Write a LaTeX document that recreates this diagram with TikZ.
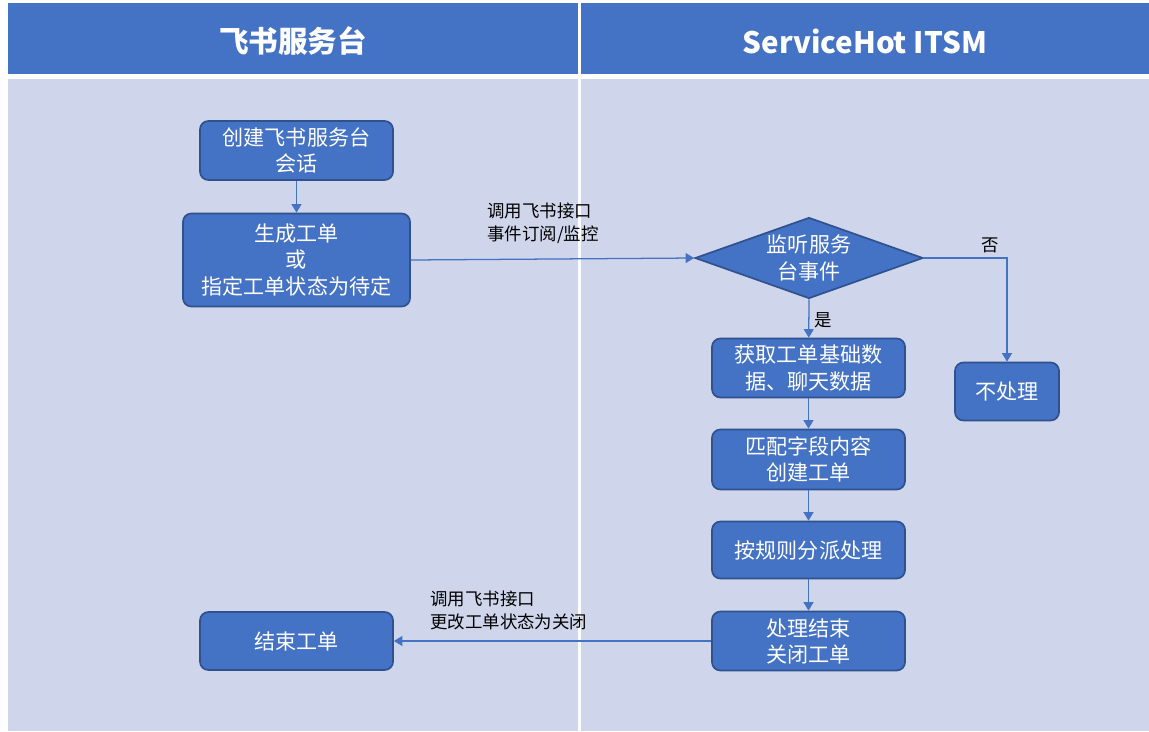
\documentclass[tikz,border=0pt]{standalone}
\usepackage{fontspec}
\setmainfont{Noto Sans CJK SC}
\usetikzlibrary{shapes.geometric,arrows.meta}
\definecolor{hdblue}{HTML}{4472C4}
\definecolor{lanebg}{HTML}{CFD5EA}
\definecolor{boxedge}{HTML}{2F528F}

\begin{document}
\begin{tikzpicture}[x=0.025cm,y=-0.025cm]
		\tikzstyle{every node}+=[inner sep=0pt]
		\tikzstyle{box}=[draw=boxedge, fill=hdblue, line width=1.2pt, rounded corners=6pt, text=white, align=center, font=\fontsize{15}{18.5}\selectfont]
		\tikzstyle{flow}=[draw=hdblue, line width=0.9pt, -{Triangle[length=6pt,width=7pt]}]
		\tikzstyle{lbl}=[align=left, text=black, font=\fontsize{12.4}{16.4}\selectfont]
		\tikzstyle{head}=[text=white, font=\fontsize{21}{25}\selectfont\bfseries]
		\useasboundingbox (0,0) rectangle (1149,731);
		\fill [white] (0,0) rectangle (1149,731);
		\fill [hdblue] (8,3) rectangle (578,74);
		\fill [hdblue] (581,3) rectangle (1149,74);
		\fill [lanebg] (8,79) rectangle (578,731);
		\fill [lanebg] (581,79) rectangle (1149,731);
		\node [head] (laneA) at (293,41) {飞书服务台};
		\node [head] (laneB) at (865,41) {ServiceHot ITSM};
		% left lane
		\node [box, minimum width=4.825cm, minimum height=1.475cm] (create) at (296.5,150.5) {创建飞书服务台\\会话};
		\node [box, minimum width=5.675cm, minimum height=2.325cm] (gen) at (296.5,260) {生成工单\\或\\指定工单状态为待定};
		\node [box, minimum width=4.825cm, minimum height=1.45cm] (finish) at (296.5,641) {结束工单};
		% right lane
		\node [box, diamond, rounded corners=0pt, shape aspect=2.8, minimum width=5.7cm, minimum height=2.025cm] (listen) at (809,258) {监听服务\\台事件};
		\node [box, minimum width=4.825cm, minimum height=1.475cm] (fetch) at (808.5,368) {获取工单基础数\\据、聊天数据};
		\node [box, minimum width=2.6cm, minimum height=1.45cm] (skip) at (1007,391.5) {不处理};
		\node [box, minimum width=4.825cm, minimum height=1.5cm] (match) at (808.5,459.5) {匹配字段内容\\创建工单};
		\node [box, minimum width=4.825cm, minimum height=1.425cm] (dispatch) at (808.5,550) {按规则分派处理};
		\node [box, minimum width=4.825cm, minimum height=1.475cm] (close) at (808.5,641) {处理结束\\关闭工单};
		% connectors
		\draw [flow] (create) -- (gen);
		\draw [flow] (gen.east) -- (listen.west);
		\node [lbl, anchor=north west] (subscribe) at (487,203) {调用飞书接口\\事件订阅/监控};
		\draw [flow] (listen.east) -| (skip.north);
		\node [lbl] (no) at (990,245) {否};
		\draw [flow] (listen.south) -- (fetch);
		\node [lbl] (yes) at (823,320) {是};
		\draw [flow] (fetch) -- (match);
		\draw [flow] (match) -- (dispatch);
		\draw [flow] (dispatch) -- (close);
		\draw [flow] (close) -- (finish);
		\node [lbl, anchor=north west] (notify) at (430,591) {调用飞书接口\\更改工单状态为关闭};
	\end{tikzpicture}
\end{document}
